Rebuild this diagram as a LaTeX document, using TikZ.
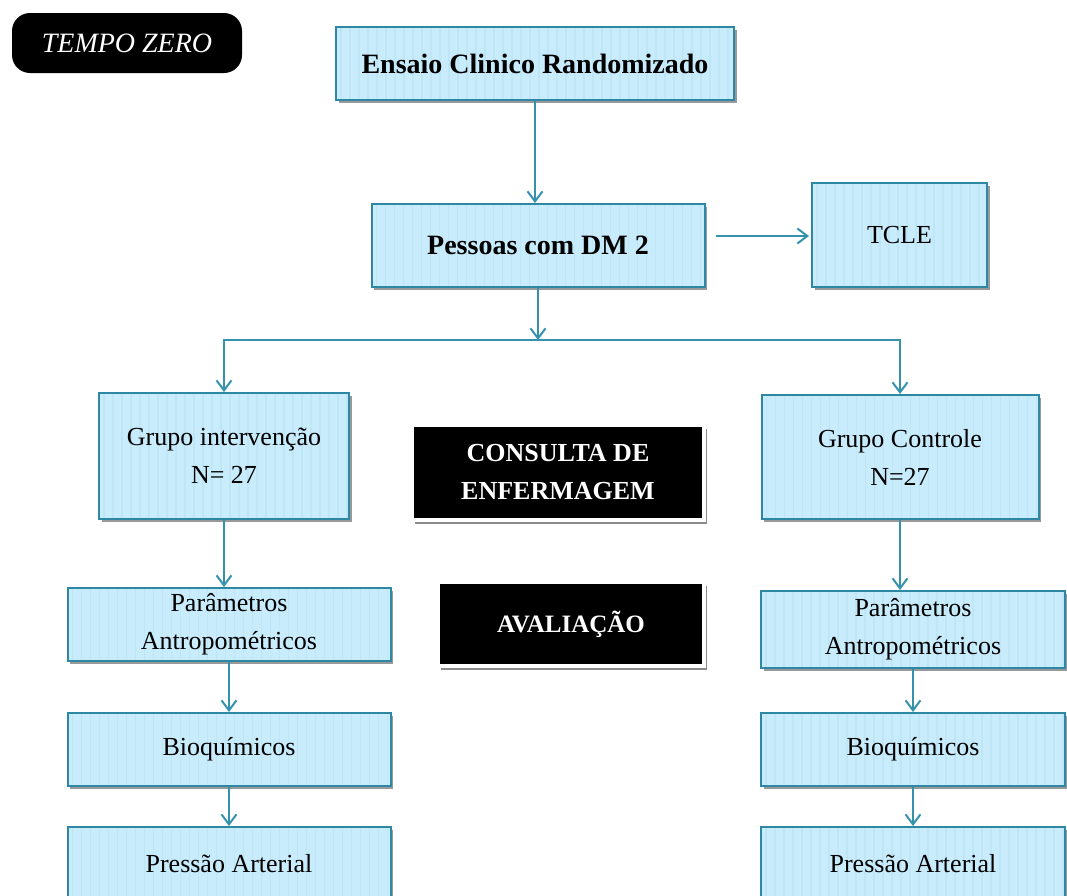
\documentclass[tikz,border=0pt]{standalone}
\usepackage{fontspec}
\setmainfont{Liberation Serif}
\usetikzlibrary{arrows.meta,shadows,calc}
\definecolor{boxfill}{HTML}{C8ECFC}
\definecolor{boxline}{HTML}{2F88A3}
\definecolor{arrowc}{HTML}{3592AD}
\definecolor{stripec}{HTML}{BEE6F7}
\begin{document}
\begin{tikzpicture}[x=1pt,y=-1pt,
  box/.style={draw=boxline, line width=2pt, fill=boxfill,
    drop shadow={shadow xshift=2.5pt, shadow yshift=-3pt, opacity=0.4, fill=black},
    align=center, inner sep=0pt, font=\fontsize{26}{38}\selectfont,
    path picture={\foreach \i in {5,14,...,420}
      \draw[stripec, line width=1.5pt] ([xshift=\i pt]path picture bounding box.south west) -- ([xshift=\i pt]path picture bounding box.north west);}},
  blackbox/.style={fill=black, draw=white, line width=4pt, text=white, align=center,
    inner sep=0pt, font=\bfseries\fontsize{26}{38}\selectfont,
    drop shadow={shadow xshift=3pt, shadow yshift=-4pt, opacity=0.45, fill=black}},
  pill/.style={fill=black, rounded corners=18pt, text=white, inner sep=0pt,
    font=\itshape\fontsize{28}{32}\selectfont},
  arr/.style={draw=arrowc, line width=2pt, -{Straight Barb[length=10pt,width=15pt]}},
]
\useasboundingbox (0,0) rectangle (1067,895);

\node[pill, minimum width=230pt, minimum height=60pt] (tempo) at (127,43) {TEMPO ZERO};

\node[box, minimum width=398pt, minimum height=73pt, font=\bfseries\fontsize{28}{34}\selectfont] (ensaio) at (535,63.5) {Ensaio Clinico Randomizado};
\node[box, minimum width=333pt, minimum height=83pt, font=\bfseries\fontsize{28}{34}\selectfont] (pessoas) at (538,245.5) {Pessoas com DM 2};
\node[box, minimum width=175pt, minimum height=104pt] (tcle) at (899.5,235) {TCLE};

\node[box, minimum width=250pt, minimum height=126pt] (gi) at (224,456) {Grupo intervenção\\N= 27};
\node[box, minimum width=277pt, minimum height=124pt] (gc) at (900,457) {Grupo Controle\\N=27};

\node[blackbox, minimum width=292pt, minimum height=95pt] (consulta) at (558,472.5) {CONSULTA DE\\ENFERMAGEM};
\node[blackbox, minimum width=266pt, minimum height=84pt, font=\bfseries\fontsize{25}{30}\selectfont] (aval) at (571,624) {AVALIAÇÃO};

\node[box, minimum width=323pt, minimum height=73pt] (pl) at (229,624.5) {Parâmetros\\Antropométricos};
\node[box, minimum width=323pt, minimum height=73pt] (bl) at (229,749.5) {Bioquímicos};
\node[box, minimum width=323pt, minimum height=73pt] (prl) at (229,863.5) {Pressão Arterial};

\node[box, minimum width=304pt, minimum height=77pt] (pr) at (913,629.5) {Parâmetros\\Antropométricos};
\node[box, minimum width=304pt, minimum height=73pt] (br) at (913,749.5) {Bioquímicos};
\node[box, minimum width=304pt, minimum height=73pt] (prr) at (913,863.5) {Pressão Arterial};

% connectors
\draw[arr] (ensaio.south) -- (ensaio.south |- pessoas.north);
\coordinate (t0) at (716,236);
\draw[arr] (t0) -- ([xshift=-2pt]t0 -| tcle.west);
\coordinate (j) at (538,340);
\draw[arr] (pessoas.south) -- (j);
\draw[arr] (gc.north |- j) -- (gi.north |- j) -- (gi.north);
\draw[arr] (gi.north |- j) -- (gc.north |- j) -- (gc.north);

\draw[arr] (gi.south) -- (gi.south |- pl.north);
\draw[arr] (pl.south) -- (bl.north);
\draw[arr] (bl.south) -- (prl.north);

\draw[arr] (gc.south) -- (gc.south |- pr.north);
\draw[arr] (pr.south) -- (br.north);
\draw[arr] (br.south) -- (prr.north);
\end{tikzpicture}
\end{document}
